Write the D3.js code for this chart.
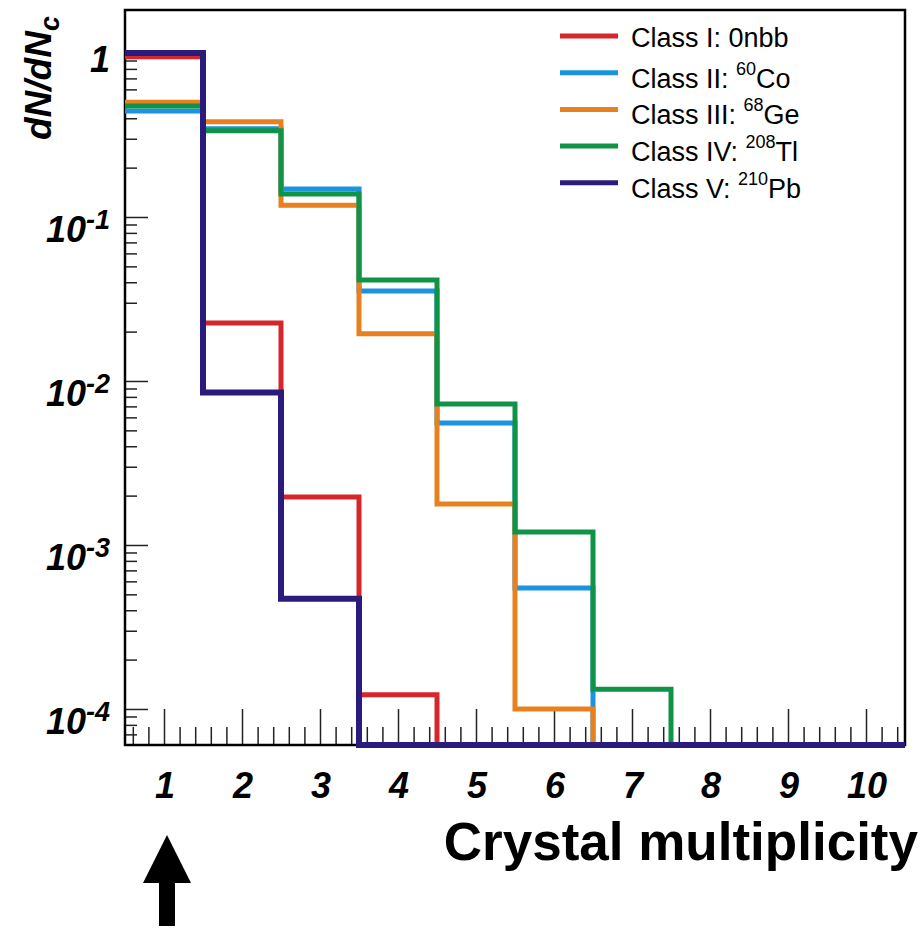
<!DOCTYPE html>
<html>
<head>
<meta charset="utf-8">
<script src="https://cdn.jsdelivr.net/npm/d3@7"></script>
<style>
  body { margin: 0; background: #fff; }
  text { font-family: "Liberation Sans", Arial, Helvetica, sans-serif; fill: #000; }
</style>
</head>
<body>
<script>
// crystal multiplicity bins
const multiplicity = [1, 2, 3, 4, 5, 6, 7, 8, 9, 10];

// dN/dNc per class, 0 = empty bin
const classI   = [0.95, 0.0226, 0.00196, 0.000122, 0, 0, 0, 0, 0, 0];
const classII  = [0.443, 0.345, 0.148, 0.0354, 0.00554, 0.000547, 0, 0, 0, 0];
const classIII = [0.50, 0.381, 0.118, 0.0194, 0.00178, 0.0001, 0, 0, 0, 0];
const classIV  = [0.475, 0.336, 0.138, 0.0413, 0.00724, 0.0012, 0.000132, 0, 0, 0];
const classV   = [1.0, 0.0085, 0.00047, 0, 0, 0, 0, 0, 0, 0];

const classNames = ["Class I: ", "Class II: ", "Class III: ", "Class IV: ", "Class V: "];
const isotopeMass = ["", "60", "68", "208", "210"];
const isotopeName = ["0nbb", "Co", "Ge", "Tl", "Pb"];
const colors = ["#d7262b", "#1b93df", "#e9801f", "#0f9447", "#2b1b7c"];

const yTickExp = [0, -1, -2, -3, -4];

const series = [classI, classII, classIII, classIV, classV];

const width = 924, height = 928;
const margin = { top: 10, right: 19, bottom: 183, left: 125 };

const x = d3.scaleLinear()
    .domain([0.5, 10.5])
    .range([margin.left, width - margin.right]);

const y = d3.scaleLog()
    .domain([6.03e-5, 1.829])
    .range([height - margin.bottom, margin.top]);

const svg = d3.create('svg')
    .attr('width', width)
    .attr('height', height)
    .attr('viewBox', [0, 0, width, height]);

// ticks (inside the frame, ROOT style)
const yMinor = [];
d3.range(-5, 1).forEach(e => d3.range(2, 10).forEach(m => {
  const v = m * Math.pow(10, e);
  if (v > y.domain()[0] && v < y.domain()[1]) yMinor.push(v);
}));
const xMinor = d3.range(6, 105, 2).map(d => d / 10).filter(d => d % 1 !== 0);

const tickStyle = g => g
    .call(g => g.select('.domain').remove())
    .call(g => g.selectAll('.tick line').attr('stroke', '#222').attr('stroke-width', 1.5))
    .call(g => g.selectAll('.tick text').remove());

svg.append('g')
    .attr('transform', `translate(${margin.left},0)`)
    .call(d3.axisRight(y).tickValues(yTickExp.map(e => Math.pow(10, e))).tickSize(23))
    .call(tickStyle);
svg.append('g')
    .attr('transform', `translate(${margin.left},0)`)
    .call(d3.axisRight(y).tickValues(yMinor).tickSize(12))
    .call(tickStyle);
svg.append('g')
    .attr('transform', `translate(0,${height - margin.bottom})`)
    .call(d3.axisTop(x).tickValues(multiplicity).tickSize(36))
    .call(tickStyle);
svg.append('g')
    .attr('transform', `translate(0,${height - margin.bottom})`)
    .call(d3.axisTop(x).tickValues(xMinor).tickSize(18))
    .call(tickStyle);

// frame
svg.append('rect')
    .attr('x', x.range()[0])
    .attr('y', y.range()[1])
    .attr('width', x.range()[1] - x.range()[0])
    .attr('height', y.range()[0] - y.range()[1])
    .attr('fill', 'none')
    .attr('stroke', '#000')
    .attr('stroke-width', 2.5);

// histograms (empty bins sit on the frame bottom)
const yMin = y.domain()[0];
const stepLine = values => {
  const pts = [];
  values.forEach((v, i) => {
    const yy = y(Math.max(v, yMin));
    pts.push([x(multiplicity[i] - 0.5), yy], [x(multiplicity[i] + 0.5), yy]);
  });
  return d3.line()(pts);
};

svg.append('g')
    .attr('fill', 'none')
  .selectAll('path')
  .data(series)
  .join('path')
    .attr('d', stepLine)
    .attr('stroke', (d, i) => colors[i])
    .attr('stroke-width', (d, i) => i === 4 ? 6 : 5)
    .attr('stroke-linejoin', 'miter');

// y tick labels
const yLab = svg.append('g')
    .attr('font-size', 36)
    .attr('font-weight', 'bold')
    .attr('font-style', 'italic')
    .attr('text-anchor', 'end');
yTickExp.forEach(e => {
  const t = yLab.append('text')
      .attr('x', 110)
      .attr('y', y(Math.pow(10, e)) + (e === 0 ? 19 : 25));
  if (e === 0) {
    t.text('1');
  } else {
    t.append('tspan').text('10');
    t.append('tspan').attr('font-size', 27).attr('dy', -13).text(e);
  }
});

// x tick labels
svg.append('g')
    .attr('font-size', 36)
    .attr('font-weight', 'bold')
    .attr('font-style', 'italic')
    .attr('text-anchor', 'middle')
  .selectAll('text')
  .data(multiplicity)
  .join('text')
    .attr('x', d => x(d) + 1)
    .attr('y', height - margin.bottom + 53)
    .text(d => d);

// axis titles
const yTitle = svg.append('text')
    .attr('transform', `translate(51,${margin.top + 130}) rotate(-90)`)
    .attr('font-size', 37)
    .attr('font-weight', 'bold')
    .attr('font-style', 'italic');
yTitle.append('tspan').text('dN/dN');
yTitle.append('tspan').attr('font-size', 27).attr('dy', 8).text('c');

svg.append('text')
    .attr('x', 918)
    .attr('y', 860)
    .attr('text-anchor', 'end')
    .attr('font-size', 53)
    .attr('font-weight', 'bold')
    .text('Crystal multiplicity');

// arrow under bin 1
const ax = x(1) + 3;
svg.append('path')
    .attr('d', `M${ax},835 L${ax + 24},883 L${ax + 8},883 L${ax + 8},926 L${ax - 8},926 L${ax - 8},883 L${ax - 24},883 Z`)
    .attr('fill', '#000');

// legend
const legend = svg.append('g')
    .attr('font-size', 27)
  .selectAll('g')
  .data(classNames)
  .join('g')
    .attr('transform', (d, i) => `translate(560,${36 + i * 36.7})`);

legend.append('line')
    .attr('x1', 0)
    .attr('x2', 58)
    .attr('stroke', (d, i) => colors[i])
    .attr('stroke-width', 5);

legend.append('text')
    .attr('x', 71)
    .attr('y', (d, i) => i === 0 ? 11 : 15)
    .call(t => t.append('tspan').text(d => d))
    .call(t => t.append('tspan')
        .attr('font-size', 18)
        .attr('dy', -13)
        .text((d, i) => isotopeMass[i]))
    .call(t => t.append('tspan')
        .attr('dy', (d, i) => isotopeMass[i] ? 13 : 0)
        .text((d, i) => isotopeName[i]));

document.body.append(svg.node());
</script>
</body>
</html>
